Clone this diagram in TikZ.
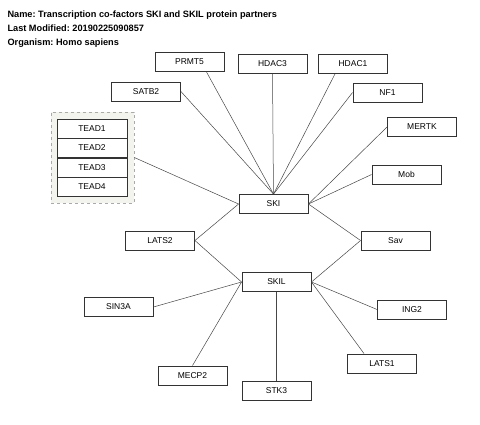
\documentclass[tikz,border=0pt]{standalone}
\usepackage{fontspec}
\setmainfont{Liberation Sans}
\usepackage{xcolor}
\usetikzlibrary{positioning,calc}
\definecolor{grpfill}{RGB}{244,244,238}
\definecolor{grpline}{RGB}{170,170,170}
\definecolor{edgegray}{RGB}{70,70,70}
\frenchspacing

\begin{document}
\begin{tikzpicture}[
  x=1pt, y=-1pt,
  font=\fontsize{8.5}{9}\selectfont,
  gene/.style={draw=black!80, line width=0.9pt, fill=white, minimum width=69pt, minimum height=19pt, inner sep=0pt},
  tead/.style={gene, minimum width=70pt},
  grp/.style={draw=grpline, dashed, line width=0.7pt, fill=grpfill},
  link/.style={draw=edgegray, line width=0.5pt},
  hdr/.style={anchor=base west, font=\fontsize{9.2}{10}\selectfont\bfseries}
]
\useasboundingbox (0,0) rectangle (480,424);

% Header
\node[hdr] (hname) at (4,17) {Name: Transcription co-factors SKI and SKIL protein partners};
\node[hdr] (hmod)  at (4,31) {Last Modified: 20190225090857};
\node[hdr] (horg)  at (4,45) {Organism: Homo sapiens};

% TEAD group
\node[grp, minimum width=83pt, minimum height=91pt] (teadgrp) at (92.5,157.5) {};
\node[tead] (tead1) at (92,128.5) {TEAD1};
\node[tead] (tead2) at (92,148)   {TEAD2};
\node[tead] (tead3) at (92,167.5) {TEAD3};
\node[tead] (tead4) at (92,186.5) {TEAD4};

% Partners of SKI
\node[gene] (prmt5) at (189.5,62)  {PRMT5};
\node[gene] (hdac3) at (272.5,64)  {HDAC3};
\node[gene] (hdac1) at (353,64)    {HDAC1};
\node[gene] (satb2) at (146,91.5)  {SATB2};
\node[gene] (nf1)   at (387.5,92.5) {NF1};
\node[gene] (mertk) at (422,127)   {MERTK};
\node[gene] (mob)   at (406.5,174.5) {Mob};
\node[gene] (ski)   at (273.5,204) {SKI};

% Shared partners
\node[gene] (lats2) at (160,240.5) {LATS2};
\node[gene] (sav)   at (395.5,240.5) {Sav};

% Partners of SKIL
\node[gene] (skil)  at (276.5,282) {SKIL};
\node[gene] (sin3a) at (118.5,307) {SIN3A};
\node[gene] (ing2)  at (412,309.5) {ING2};
\node[gene] (lats1) at (382,363.5) {LATS1};
\node[gene] (mecp2) at (192.5,375.5) {MECP2};
\node[gene] (stk3)  at (276.5,391) {STK3};

% Interactions with SKI
\draw[link] ([xshift=17pt]prmt5.south) -- (ski.north);
\draw[link] (hdac3.south) -- (ski.north);
\draw[link] ([xshift=-18pt]hdac1.south) -- (ski.north);
\draw[link] (satb2.east) -- (ski.north);
\draw[link] (nf1.west) -- (ski.north);
\draw[link] (mertk.west) -- (ski.east);
\draw[link] (mob.west) -- (ski.east);
\draw[link] (teadgrp.east) -- (ski.west);
\draw[link] (lats2.east) -- (ski.west);
\draw[link] (sav.west) -- (ski.east);

% Interactions with SKIL
\draw[link] (lats2.east) -- (skil.west);
\draw[link] (sav.west) -- (skil.east);
\draw[link] (sin3a.east) -- (skil.west);
\draw[link] (mecp2.north) -- (skil.west);
\draw[link] (stk3.north) -- (skil.south);
\draw[link] ([xshift=-18pt]lats1.north) -- (skil.east);
\draw[link] (ing2.west) -- (skil.east);
\end{tikzpicture}
\end{document}
